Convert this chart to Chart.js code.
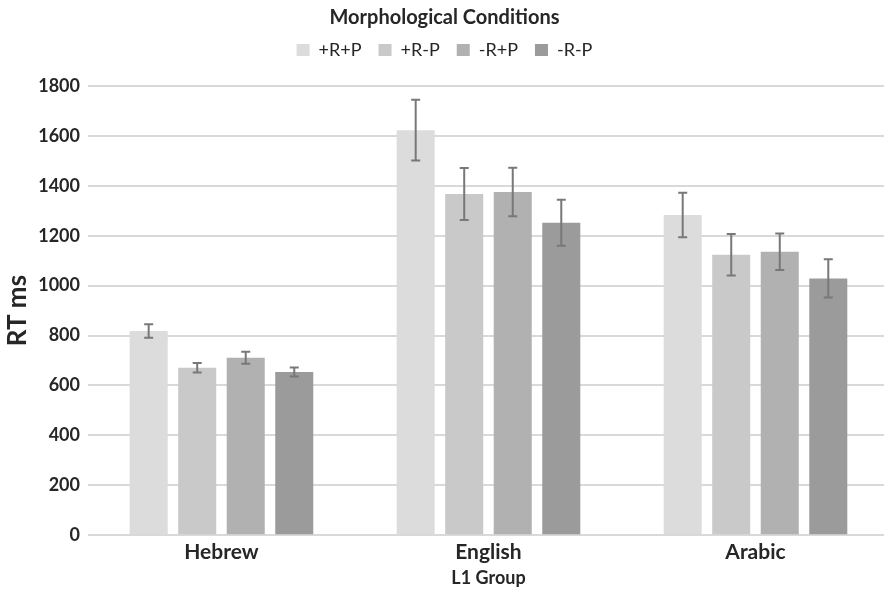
<!DOCTYPE html>
<html>
<head>
<meta charset="utf-8">
<script src="https://cdn.jsdelivr.net/npm/chart.js@4/dist/chart.umd.min.js"></script>
<style>
  html, body { margin: 0; padding: 0; background: #fff; overflow: hidden; }
  #wrap { width: 900px; height: 595px; }
</style>
</head>
<body>
<div id="wrap"><canvas id="chart" width="900" height="595"></canvas></div>
<script>
// L1 groups and morphological conditions
const groups = ['Hebrew', 'English', 'Arabic'];
const conditions = ['+R+P', '+R-P', '-R+P', '-R-P'];

// mean RT (ms) per condition, one value per group
const rtRP = [818, 1623, 1283];
const rtRnoP = [671, 1367, 1124];
const rtNoRP = [711, 1375, 1136];
const rtNoRnoP = [654, 1252, 1029];

// error bar half-lengths (ms)
const errRP = [27, 122, 89];
const errRnoP = [19, 104, 83];
const errNoRP = [24, 97, 73];
const errNoRnoP = [18, 92, 77];

const yTicks = [0, 200, 400, 600, 800, 1000, 1200, 1400, 1600, 1800];

const barColors = ['#dbdcdb', '#c8c9c8', '#b1b1b1', '#9a9b9a'];
const font = 'Lato, "Open Sans", sans-serif';

// draw the error bars from each dataset's errors
const errorBars = {
    id: 'errorBars',
    afterDatasetsDraw(chart) {
        const ctx = chart.ctx;
        const y = chart.scales.y;
        ctx.save();
        ctx.strokeStyle = '#787878';
        ctx.lineWidth = 2;
        chart.data.datasets.forEach((ds, i) => {
            const meta = chart.getDatasetMeta(i);
            meta.data.forEach((bar, j) => {
                const v = ds.data[j];
                const e = ds.errors[j];
                const top = y.getPixelForValue(v + e);
                const bottom = y.getPixelForValue(v - e);
                const x = bar.x;
                ctx.beginPath();
                ctx.moveTo(x, top);
                ctx.lineTo(x, bottom);
                ctx.moveTo(x - 4.5, top);
                ctx.lineTo(x + 4.5, top);
                ctx.moveTo(x - 4.5, bottom);
                ctx.lineTo(x + 4.5, bottom);
                ctx.stroke();
            });
        });
        ctx.restore();
    }
};

// leave some room between the legend and the plot
const legendGap = {
    id: 'legendGap',
    beforeInit(chart) {
        const fit = chart.legend.fit;
        chart.legend.fit = function() {
            fit.call(this);
            this.height += 17;
        };
    }
};

const series = [rtRP, rtRnoP, rtNoRP, rtNoRnoP];
const errors = [errRP, errRnoP, errNoRP, errNoRnoP];

const ctx = document.getElementById('chart').getContext('2d');
new Chart(ctx, {
    type: 'bar',
    data: {
        labels: groups,
        datasets: conditions.map((c, i) => ({
            label: c,
            data: series[i],
            errors: errors[i],
            backgroundColor: barColors[i],
            borderWidth: 0,
            categoryPercentage: 0.727,
            barPercentage: 0.784
        }))
    },
    options: {
        responsive: false,
        animation: false,
        layout: { padding: { left: 0, right: 11, top: 0, bottom: 0 } },
        plugins: {
            title: {
                display: true,
                text: 'Morphological Conditions',
                color: '#262626',
                font: { family: font, size: 20, weight: 'bold' },
                padding: { top: 6, bottom: -6 }
            },
            legend: {
                position: 'top',
                labels: {
                    color: '#262626',
                    font: { family: font, size: 18 },
                    boxWidth: 13,
                    boxHeight: 12,
                    padding: 17
                }
            },
            tooltip: { enabled: false }
        },
        scales: {
            x: {
                grid: { display: false, drawTicks: false },
                border: { display: false },
                ticks: {
                    color: '#262626',
                    font: { family: font, size: 21, weight: 'bold' },
                    padding: 4
                },
                title: {
                    display: true,
                    text: 'L1 Group',
                    color: '#262626',
                    font: { family: font, size: 18, weight: 'bold' },
                    padding: { top: -1, bottom: 6 }
                }
            },
            y: {
                min: 0,
                max: 1800,
                afterBuildTicks: axis => {
                    axis.ticks = yTicks.map(v => ({ value: v }));
                },
                grid: { color: '#d9d9d9', lineWidth: 2, drawTicks: false },
                border: { display: false },
                ticks: {
                    color: '#262626',
                    font: { family: font, size: 18, weight: 'bold' },
                    padding: 8,
                    callback: v => String(v)
                },
                title: {
                    display: true,
                    text: 'RT ms',
                    color: '#262626',
                    font: { family: font, size: 26, weight: 'bold' },
                    padding: { top: 2, bottom: -3 }
                }
            }
        }
    },
    plugins: [errorBars, legendGap]
});
</script>
</body>
</html>
